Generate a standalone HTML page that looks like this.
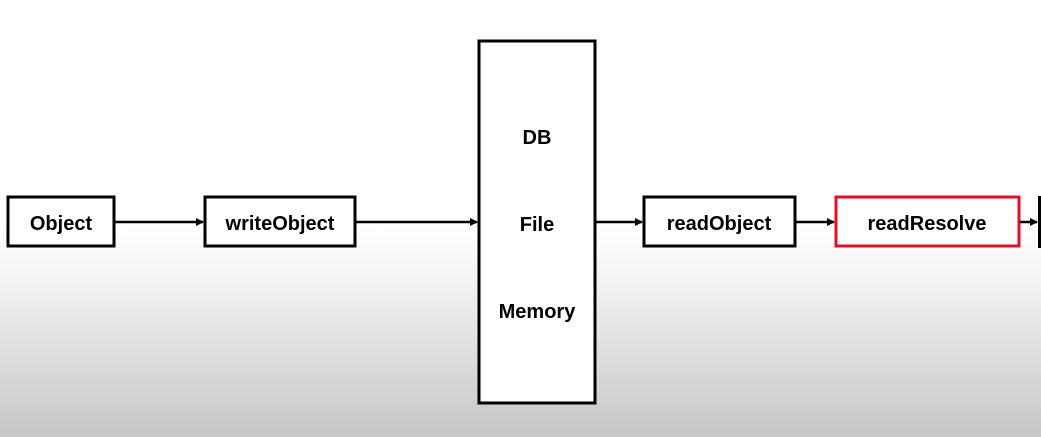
<!DOCTYPE html>
<html><head><style>
body{margin:0;width:1041px;height:437px;overflow:hidden;background:linear-gradient(to bottom,#fff 0,#fff 225px,#f3f3f3 280px,#dcdcdc 360px,#c6c6c6 437px);font-family:"Liberation Sans",sans-serif;}
</style></head><body>
<svg width="1041" height="437" style="position:absolute;left:0;top:0">
<defs><marker id="a" markerWidth="8" markerHeight="8" refX="7" refY="4" orient="auto" markerUnits="userSpaceOnUse"><path d="M0,0 L8,4 L0,8z" fill="#000"/></marker></defs>
<g fill="#fff" stroke="#000" stroke-width="3">
<rect x="8" y="197" width="106" height="49"/>
<rect x="205" y="197" width="150" height="49"/>
<rect x="479" y="41" width="116" height="362"/>
<rect x="644" y="197" width="151" height="49"/>
<rect x="836" y="197" width="183" height="49" stroke="#e0102a"/>
</g>
<rect x="1038" y="196" width="3" height="52" fill="#000"/>
<g stroke="#000" stroke-width="2.5" marker-end="url(#a)">
<line x1="115" y1="222" x2="203" y2="222"/>
<line x1="356" y1="222" x2="477" y2="222"/>
<line x1="596" y1="222" x2="642" y2="222"/>
<line x1="796" y1="222" x2="834" y2="222"/>
<line x1="1020" y1="222" x2="1037" y2="222"/>
</g>
<g font-family="Liberation Sans,sans-serif" font-weight="bold" font-size="20" text-anchor="middle" fill="#000">
<text x="61" y="230">Object</text>
<text x="280" y="230">writeObject</text>
<text x="537" y="144">DB</text>
<text x="537" y="231">File</text>
<text x="537" y="318">Memory</text>
<text x="719" y="230">readObject</text>
<text x="927" y="230">readResolve</text>
</g>
</svg>
</body></html>
